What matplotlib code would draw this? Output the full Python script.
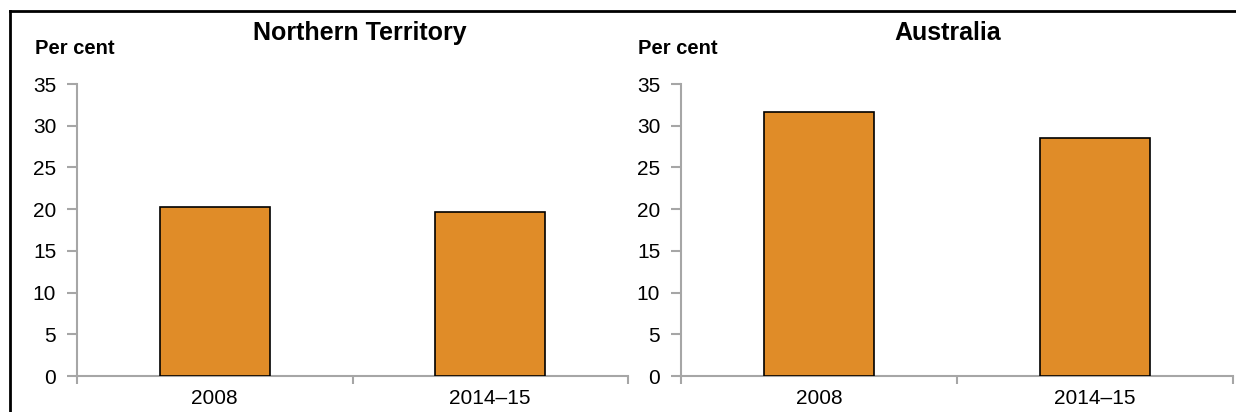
import matplotlib.pyplot as plt
from matplotlib.lines import Line2D

plt.rcParams['font.family'] = ['Liberation Sans', 'DejaVu Sans']

# Data
categories = ['2008', '2014–15']
nt_values = [20.3, 19.6]
aus_values = [31.7, 28.5]
panel_titles = ['Northern Territory', 'Australia']
y_ticks = [0, 5, 10, 15, 20, 25, 30, 35]

bar_color = '#E08C28'
axis_gray = '#A6A6A6'

fig = plt.figure(figsize=(12.36, 4.12), dpi=100)

# axes placement in figure fractions
ax_left = fig.add_axes([77 / 1236, 1 - 376 / 412, 551 / 1236, 292 / 412])
ax_right = fig.add_axes([681 / 1236, 1 - 376 / 412, 552 / 1236, 292 / 412])

for ax, vals in [(ax_left, nt_values), (ax_right, aus_values)]:
    x = range(len(categories))
    ax.bar(x, vals, width=0.4, color=bar_color, edgecolor='black', linewidth=1.2, zorder=3)
    ax.set_xlim(-0.5, len(categories) - 0.5)
    ax.set_ylim(0, 35)
    ax.set_yticks(y_ticks)
    ax.set_xticks(list(x))
    ax.set_xticklabels(categories)
    ax.set_xticks([-0.5, 0.5, 1.5], minor=True)
    ax.tick_params(axis='x', which='major', length=0, pad=9, labelsize=15)
    ax.tick_params(axis='x', which='minor', length=6, width=1.5, color=axis_gray, direction='out')
    ax.tick_params(axis='y', length=7, width=1.5, color=axis_gray, pad=8, labelsize=15)
    for side in ['top', 'right']:
        ax.spines[side].set_visible(False)
    for side in ['left', 'bottom']:
        ax.spines[side].set_color(axis_gray)
        ax.spines[side].set_linewidth(1.5)
    ax.set_facecolor('none')

# titles and unit labels
fig.text(360 / 1236, 1 - 33 / 412, panel_titles[0], ha='center', va='center',
         fontsize=18, fontweight='bold')
fig.text(948 / 1236, 1 - 33 / 412, panel_titles[1], ha='center', va='center',
         fontsize=18, fontweight='bold')
fig.text(35 / 1236, 1 - 48 / 412, 'Per cent', ha='left', va='center',
         fontsize=14.5, fontweight='bold')
fig.text(638 / 1236, 1 - 48 / 412, 'Per cent', ha='left', va='center',
         fontsize=14.5, fontweight='bold')

# outer frame (left and top edges)
fig.add_artist(Line2D([10 / 1236, 10 / 1236], [0, 1 - 11 / 412], color='black', linewidth=2))
fig.add_artist(Line2D([10 / 1236, 1], [1 - 11 / 412, 1 - 11 / 412], color='black', linewidth=2))

fig.savefig('out.png', dpi=100)
